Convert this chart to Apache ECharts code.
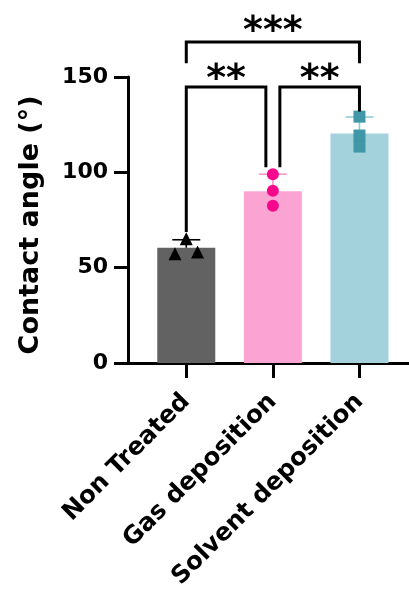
<!DOCTYPE html>
<html><head><meta charset="utf-8">
<script src="https://cdn.jsdelivr.net/npm/echarts@6/dist/echarts.min.js"></script>
<style>html,body{margin:0;padding:0;background:#fff}#c{width:409px;height:592px}</style>
</head><body><div id="c"></div>
<script>
// ---- data ----
const categories = ['Non Treated', 'Gas deposition', 'Solvent deposition'];
const means = [60.4, 90.0, 120.4];
const sds = [4.2, 9.0, 8.6];
const ntPoints = [65.1, 57.3, 58.2];
const gasPoints = [99.0, 90.3, 82.5];
const solventPoints = [129.2, 119.3, 113.5];
const ntJitter = [0, -0.13, 0.13];
const yTicks = [0, 50, 100, 150];
// significance brackets: [fromCategory, toCategory, bracketY, leftLegEndY, rightLegEndY, label]
const brackets = [
  [0, 1, 144.8, 68.7, 102.6, '**'],
  [1, 2, 144.8, 102.6, 131.9, '**'],
  [0, 2, 168.4, 157.2, 157.2, '***']
];
// ---- styles ----
const barColors = ['#626262', '#FBA4D4', '#A3D1DC'];
const errColors = ['#000000', '#F79ACB', '#92CAD7'];
const FONT = 'DejaVu Sans';

const chart = echarts.init(document.getElementById('c'), null, {renderer: 'canvas'});
const catIdx = categories.map((c, i) => i);

chart.setOption({
  animation: false,
  backgroundColor: '#fff',
  grid: {left: 128, right: 0, top: 77, bottom: 227, containLabel: false},
  xAxis: {
    type: 'value', min: -0.673, max: 2.572,
    splitLine: {show: false},
    axisLine: {onZero: false, lineStyle: {color: '#000', width: 3}},
    axisTick: {show: true, customValues: catIdx, length: 15, lineStyle: {color: '#000', width: 3}},
    axisLabel: {
      customValues: catIdx, formatter: v => categories[Math.round(v)] || '',
      rotate: 45, margin: 35, padding: [50, 0, 0, 0],
      color: '#000', fontFamily: FONT, fontWeight: 'bold', fontSize: 24.5
    }
  },
  yAxis: {
    type: 'value', min: yTicks[0], max: yTicks[yTicks.length - 1], interval: 50,
    splitLine: {show: false},
    axisLine: {show: true, onZero: false, lineStyle: {color: '#000', width: 3}},
    axisTick: {show: true, length: 14, lineStyle: {color: '#000', width: 3}},
    axisLabel: {margin: 20, color: '#000', fontFamily: FONT, fontWeight: 'bold', fontSize: 22},
    name: 'Contact angle (°)', nameLocation: 'middle', nameRotate: 90, nameGap: 84,
    nameTextStyle: {color: '#000', fontFamily: FONT, fontWeight: 'bold', fontSize: 27, padding: [0, 10, 0, 0]}
  },
  series: [
    {
      type: 'bar', barWidth: 58, z: 1,
      data: means.map((v, i) => ({value: [i, v], itemStyle: {color: barColors[i]}}))
    },
    {
      type: 'custom', z: 2, clip: false,
      data: means.map((v, i) => [i, v, v + sds[i]]),
      renderItem: function (params, api) {
        const i = params.dataIndex;
        const p0 = api.coord([api.value(0), api.value(1)]);
        const p1 = api.coord([api.value(0), api.value(2)]);
        const st = {stroke: errColors[i], lineWidth: 1.6};
        return {type: 'group', children: [
          {type: 'line', shape: {x1: p0[0], y1: p0[1], x2: p1[0], y2: p1[1]}, style: st},
          {type: 'line', shape: {x1: p1[0] - 14, y1: p1[1], x2: p1[0] + 14, y2: p1[1]}, style: st}
        ]};
      }
    },
    {
      type: 'scatter', z: 3, symbol: 'triangle', symbolSize: 13,
      itemStyle: {color: '#000', opacity: 1},
      data: ntPoints.map((v, k) => [0 + ntJitter[k], v])
    },
    {
      type: 'scatter', z: 3, symbol: 'circle', symbolSize: 12,
      itemStyle: {color: '#F7078C', opacity: 1},
      data: gasPoints.map(v => [1, v])
    },
    {
      type: 'scatter', z: 3, symbol: 'rect', symbolSize: 12,
      itemStyle: {color: '#3F97A8', opacity: 1},
      data: solventPoints.map(v => [2, v])
    },
    {
      type: 'custom', z: 4, clip: false,
      data: brackets.map(b => [b[0], b[2]]),
      renderItem: function (params, api) {
        const b = brackets[params.dataIndex];
        const offL = b[0] === 1 ? 7 : 0;
        const offR = b[1] === 1 ? -7 : 0;
        const top = api.coord([b[0], b[2]]);
        const lx = api.coord([b[0], b[3]])[0] + offL;
        const rx = api.coord([b[1], b[4]])[0] + offR;
        const ly = api.coord([b[0], b[3]])[1];
        const ry = api.coord([b[1], b[4]])[1];
        const ty = top[1];
        const up = b[5].length === 3 ? 10 : 7;
        return {type: 'group', children: [
          {type: 'polyline', shape: {points: [[lx, ly], [lx, ty], [rx, ty], [rx, ry]]},
           style: {stroke: '#000', lineWidth: 3, fill: null, lineJoin: 'miter'}},
          {type: 'text', style: {text: b[5], x: (lx + rx) / 2, y: ty - up,
            align: 'center', verticalAlign: 'middle',
            font: 'bold 38px "DejaVu Sans"', fill: '#000'}}
        ]};
      }
    }
  ]
});
</script></body></html>
